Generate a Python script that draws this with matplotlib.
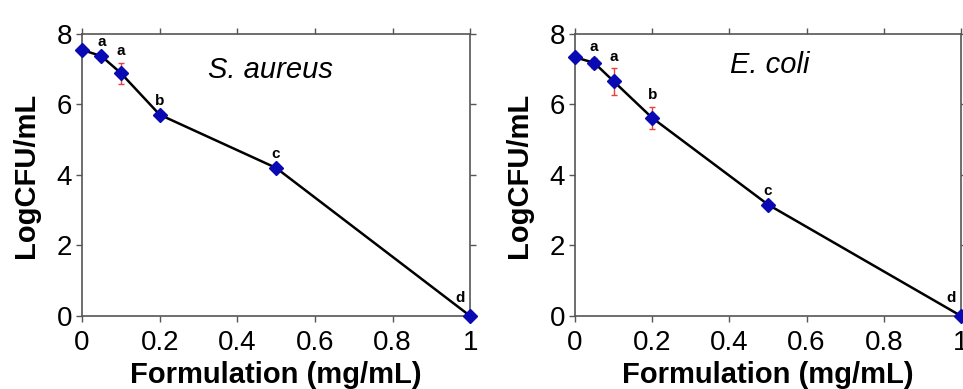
import numpy as np
import matplotlib
matplotlib.use("Agg")
import matplotlib.pyplot as plt

plt.rcParams['font.family'] = ['Liberation Sans', 'DejaVu Sans']

conc = [0, 0.05, 0.1, 0.2, 0.5, 1.0]
letters = ["", "a", "a", "b", "c", "d"]

# S. aureus
sa_log = [7.55, 7.37, 6.89, 5.71, 4.20, 0.0]
sa_err = [0.0, 0.05, 0.30, 0.0, 0.0, 0.0]

# E. coli
ec_log = [7.34, 7.18, 6.66, 5.62, 3.16, 0.0]
ec_err = [0.0, 0.14, 0.38, 0.32, 0.0, 0.0]

SPINE = "#555555"


def draw_panel(ax, y, err, title, title_xy):
    ax.errorbar(conc, y, yerr=err, fmt="none", ecolor="#e8413c", elinewidth=1.0,
                capsize=2.5, capthick=1.0, zorder=2)
    ax.plot(conc, y, color="black", lw=1.8, zorder=3)
    ax.plot(conc, y, ls="none", marker="D", ms=7, color="#0a0ab4", zorder=4,
            clip_on=False)
    for xi, yi, ei, lab in zip(conc, y, err, letters):
        if not lab:
            continue
        if lab == "d":
            ax.text(xi - 0.025, yi + 0.3, lab, ha="center", va="bottom",
                    fontsize=11, fontweight="bold")
        else:
            ax.text(xi, yi + max(ei, 0.08) + 0.12, lab, ha="center", va="bottom",
                    fontsize=11, fontweight="bold")
    ax.text(title_xy[0], title_xy[1], title, ha="center", va="center",
            fontsize=21, style="italic")

    ax.set_xlim(0, 1)
    ax.set_ylim(0, 8)
    ax.set_xticks([0, 0.2, 0.4, 0.6, 0.8, 1])
    ax.set_xticklabels(["0", "0.2", "0.4", "0.6", "0.8", "1"])
    ax.set_yticks([0, 2, 4, 6, 8])
    ax.tick_params(axis="both", direction="out", length=4, width=1, color=SPINE,
                   labelsize=20, top=True, right=True, pad=3)
    ax.tick_params(axis="x", pad=6)
    for s in ax.spines.values():
        s.set_color(SPINE)
        s.set_linewidth(1.2)
    ax.set_xlabel("Formulation (mg/mL)", fontsize=21, fontweight="bold", labelpad=4)
    ax.set_ylabel("LogCFU/mL", fontsize=21, fontweight="bold", labelpad=12)


fig = plt.figure(figsize=(9.63, 3.89), dpi=100)
ax1 = fig.add_axes([0.0852, 0.1877, 0.403, 0.725])
ax2 = fig.add_axes([0.597, 0.1877, 0.401, 0.725])

draw_panel(ax1, sa_log, sa_err, "S. aureus", (0.485, 6.98))
draw_panel(ax2, ec_log, ec_err, "E. coli", (0.505, 7.12))

fig.savefig("out.png", dpi=100)
